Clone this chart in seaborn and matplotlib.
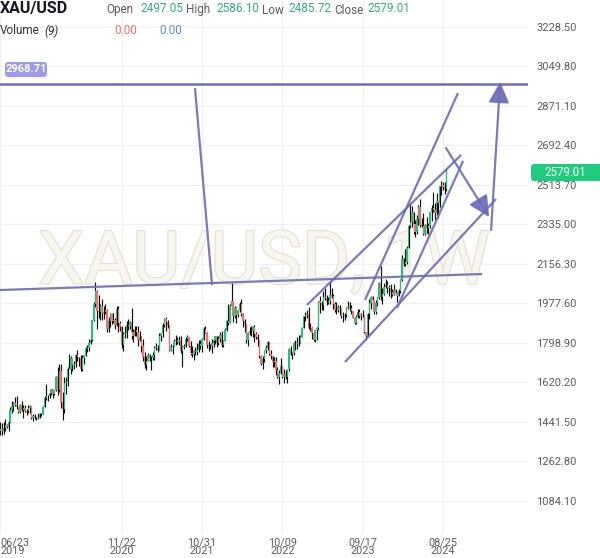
import numpy as np
import pandas as pd
import seaborn as sns
import matplotlib.pyplot as plt
import matplotlib.patheffects as pe
from matplotlib.patches import FancyBboxPatch

sns.set_style("white")
plt.rcParams['font.family'] = ['Roboto', 'DejaVu Sans']

# weekly XAU/USD candles, first week starts 2019-06-23
first_open = 1402.0

closes_2019 = [1409, 1400, 1415, 1426, 1419, 1440, 1497, 1513, 1527, 1520, 1507, 1488, 1517, 1497,
               1505, 1489, 1490, 1505, 1514, 1459, 1468, 1462, 1464, 1459, 1476, 1478, 1511, 1552]
highs_2019 = [1439, 1437, 1439, 1453, 1433, 1449, 1510, 1535, 1531, 1555, 1557, 1511, 1524, 1535,
              1519, 1516, 1500, 1518, 1516, 1515, 1478, 1478, 1466, 1484, 1484, 1483, 1514, 1557]
lows_2019 = [1382, 1382, 1386, 1401, 1412, 1400, 1441, 1480, 1492, 1513, 1502, 1484, 1484, 1490,
             1459, 1486, 1474, 1480, 1484, 1456, 1445, 1457, 1452, 1455, 1458, 1469, 1477, 1508]

closes_2020 = [1557, 1557, 1571, 1589, 1570, 1584, 1644, 1585, 1673, 1530, 1498, 1617, 1620, 1683,
               1683, 1729, 1700, 1702, 1743, 1734, 1730, 1683, 1729, 1743, 1771, 1775, 1798, 1810,
               1902, 1975, 2035, 1944, 1940, 1964, 1934, 1940, 1950, 1862, 1900, 1930, 1899, 1902,
               1879, 1951, 1889, 1872, 1788, 1839, 1839, 1881, 1877, 1895]
highs_2020 = [1611, 1563, 1573, 1591, 1591, 1584, 1649, 1689, 1703, 1703, 1575, 1647, 1645, 1690,
              1747, 1738, 1722, 1715, 1751, 1765, 1735, 1745, 1744, 1745, 1779, 1789, 1818, 1815,
              1904, 1984, 2075, 2039, 2015, 1976, 2000, 1966, 1973, 1951, 1917, 1933, 1933, 1933,
              1911, 1965, 1965, 1897, 1876, 1848, 1875, 1897, 1906, 1900]
lows_2020 = [1540, 1536, 1549, 1563, 1548, 1562, 1581, 1562, 1575, 1504, 1451, 1484, 1567, 1606,
             1680, 1660, 1670, 1681, 1692, 1717, 1693, 1670, 1670, 1704, 1741, 1757, 1764, 1792,
             1807, 1900, 1963, 1863, 1911, 1902, 1902, 1906, 1929, 1848, 1850, 1873, 1886, 1891,
             1860, 1877, 1850, 1853, 1775, 1764, 1820, 1821, 1859, 1864]

closes_2021 = [1850, 1829, 1856, 1848, 1814, 1824, 1784, 1734, 1700, 1719, 1745, 1733, 1729, 1744,
               1777, 1777, 1769, 1831, 1843, 1881, 1905, 1892, 1877, 1764, 1781, 1787, 1808, 1812,
               1802, 1814, 1763, 1780, 1781, 1819, 1827, 1787, 1754, 1750, 1761, 1757, 1768, 1793,
               1783, 1818, 1864, 1845, 1788, 1783, 1783, 1798, 1811, 1829]
highs_2021 = [1959, 1864, 1875, 1876, 1875, 1855, 1830, 1815, 1760, 1740, 1755, 1748, 1740, 1758,
              1784, 1798, 1790, 1843, 1846, 1890, 1913, 1916, 1903, 1879, 1795, 1791, 1818, 1834,
              1825, 1832, 1832, 1785, 1795, 1824, 1834, 1827, 1809, 1787, 1765, 1782, 1800, 1814,
              1810, 1823, 1869, 1877, 1849, 1808, 1793, 1815, 1813, 1831]
lows_2021 = [1817, 1803, 1829, 1832, 1785, 1808, 1760, 1717, 1687, 1677, 1718, 1719, 1677, 1721,
             1723, 1766, 1756, 1768, 1808, 1826, 1869, 1855, 1866, 1761, 1761, 1750, 1786, 1791,
             1794, 1790, 1753, 1690, 1772, 1779, 1807, 1782, 1745, 1737, 1721, 1746, 1745, 1760,
             1772, 1759, 1813, 1845, 1778, 1762, 1770, 1753, 1781, 1796]

closes_2022 = [1797, 1817, 1835, 1791, 1808, 1859, 1898, 1889, 1966, 1988, 1921, 1958, 1925, 1946,
               1975, 1931, 1897, 1883, 1811, 1846, 1853, 1851, 1871, 1840, 1827, 1811, 1742, 1703,
               1727, 1766, 1775, 1802, 1747, 1738, 1712, 1717, 1675, 1644, 1661, 1695, 1644, 1657,
               1645, 1682, 1770, 1751, 1755, 1798, 1797, 1793, 1798, 1824]
highs_2022 = [1831, 1830, 1848, 1853, 1811, 1865, 1902, 1974, 1974, 2070, 1989, 1966, 1960, 1949,
              1982, 1998, 1936, 1909, 1884, 1849, 1870, 1874, 1877, 1879, 1847, 1840, 1812, 1745,
              1739, 1767, 1788, 1807, 1802, 1765, 1740, 1735, 1735, 1688, 1675, 1730, 1690, 1681,
              1675, 1682, 1774, 1786, 1760, 1804, 1810, 1824, 1833, 1833]
lows_2022 = [1782, 1789, 1805, 1780, 1780, 1807, 1851, 1878, 1889, 1950, 1895, 1910, 1890, 1915,
             1941, 1922, 1872, 1850, 1798, 1787, 1837, 1829, 1825, 1805, 1816, 1785, 1732, 1697,
             1681, 1711, 1754, 1766, 1745, 1727, 1688, 1691, 1654, 1639, 1615, 1660, 1640, 1618,
             1638, 1617, 1672, 1745, 1727, 1743, 1765, 1773, 1785, 1798]

closes_2023 = [1866, 1920, 1926, 1928, 1865, 1865, 1842, 1811, 1856, 1868, 1989, 1978, 1969, 2007,
               2004, 1983, 1990, 2017, 2011, 1977, 1946, 1948, 1961, 1958, 1921, 1919, 1925, 1955,
               1962, 1959, 1943, 1914, 1889, 1915, 1940, 1919, 1924, 1925, 1848, 1832, 1932, 1981,
               2006, 1992, 1940, 1981, 2002, 2072, 2005, 2019, 2053, 2063]
highs_2023 = [1869, 1922, 1937, 1949, 1960, 1890, 1870, 1848, 1858, 1870, 1990, 2010, 1987, 2032,
              2048, 2015, 2009, 2079, 2048, 2022, 1985, 1983, 1971, 1971, 1959, 1938, 1935, 1963,
              1987, 1983, 1970, 1935, 1917, 1924, 1953, 1953, 1933, 1947, 1926, 1844, 1936, 1997,
              2010, 2010, 1993, 1993, 2008, 2075, 2147, 2047, 2070, 2088]
lows_2023 = [1825, 1866, 1896, 1911, 1861, 1855, 1819, 1808, 1805, 1810, 1858, 1934, 1949, 1949,
             1992, 1969, 1974, 1977, 2002, 1951, 1937, 1932, 1938, 1925, 1910, 1893, 1902, 1915,
             1951, 1943, 1929, 1912, 1885, 1884, 1913, 1914, 1901, 1915, 1846, 1810, 1834, 1908,
             1954, 1970, 1932, 1931, 1966, 1999, 1994, 1973, 2016, 2048]

closes_2024 = [2049, 2049, 2029, 2018, 2039, 2024, 2013, 2035, 2083, 2179, 2155, 2166, 2230, 2330,
               2344, 2391, 2337, 2301, 2360, 2415, 2334, 2327, 2294, 2333, 2321, 2326, 2392, 2411,
               2400, 2386, 2443, 2431, 2507, 2512, 2503, 2497.05, 2579.01]
highs_2024 = [2079, 2062, 2067, 2041, 2066, 2045, 2031, 2041, 2088, 2195, 2185, 2223, 2236, 2331,
              2432, 2418, 2349, 2354, 2378, 2422, 2450, 2364, 2388, 2339, 2368, 2340, 2393, 2424,
              2483, 2432, 2477, 2431, 2509, 2531, 2529, 2529, 2586.10]
lows_2024 = [2024, 2013, 2002, 2010, 2017, 2015, 1984, 2010, 2023, 2078, 2146, 2146, 2157, 2228,
             2319, 2324, 2291, 2277, 2291, 2334, 2325, 2325, 2286, 2287, 2295, 2293, 2318, 2351,
             2393, 2353, 2378, 2364, 2415, 2470, 2492, 2472, 2485.72]

price_ticks = [1084.10, 1262.80, 1441.50, 1620.20, 1798.90, 1977.60, 2156.30,
               2335.00, 2513.70, 2692.40, 2871.10, 3049.80, 3228.50]
date_tick_weeks = [0, 74, 123, 172, 221, 270]
date_tick_labels = ["06/23\n2019", "11/22\n2020", "10/31\n2021", "10/09\n2022", "09/17\n2023", "08/25\n2024"]

# drawings (week index, price)
h_level = 2968.71
trend_lines = [
    [(-0.2, 2038.4), (293.8, 2110.8)],
    [(118.7, 2952.5), (129.1, 2061.1)],
    [(187.0, 1970.5), (281.0, 2649.3)],
    [(210.2, 1712.6), (302.3, 2450.2)],
    [(222.4, 1993.2), (279.1, 2929.8)],
    [(241.9, 1957.0), (282.2, 2622.2)],
]
arrows = [
    [(271.8, 2681.0), (298.1, 2368.8)],
    [(299.3, 2309.9), (304.8, 2979.6)],
]

closes = closes_2019 + closes_2020 + closes_2021 + closes_2022 + closes_2023 + closes_2024
highs = highs_2019 + highs_2020 + highs_2021 + highs_2022 + highs_2023 + highs_2024
lows = lows_2019 + lows_2020 + lows_2021 + lows_2022 + lows_2023 + lows_2024

df = pd.DataFrame({"close": closes, "high": highs, "low": lows})
df["week"] = np.arange(len(df))
df["open"] = [first_open] + closes[:-1]
df["high"] = df[["high", "open", "close"]].max(axis=1)
df["low"] = df[["low", "open", "close"]].min(axis=1)
df["up"] = df["close"] >= df["open"]

UP = "#1fc37a"
DOWN = "#f26d6d"
PURPLE = "#6c6cbc"
GRID = "#f0f0f0"
LABEL = "#5d5d5d"

fig = plt.figure(figsize=(6, 5.58), dpi=100)
W, H = 600, 558
ax = fig.add_axes([0, 1 - 533 / H, 528 / W, 533 / H])

ax.set_xlim(-0.21, 321.8)
ax.set_ylim(938.9, 3350.7)

# watermark
ax.text(264 / W, 1 - 263 / H, "XAU/USD, 1W", transform=fig.transFigure,
        ha="center", va="center", fontsize=53, color="#f8f6f0", zorder=1,
        path_effects=[pe.withStroke(linewidth=1.6, foreground="#e6dfcd")])

# candles
ax.vlines(df["week"], df["low"], df["high"], color="#111111", lw=0.85, zorder=3)
body_bottom = df[["open", "close"]].min(axis=1)
body_h = (df["close"] - df["open"]).abs().clip(lower=3)
ax.bar(df["week"], body_h, bottom=body_bottom, width=0.85,
       color=np.where(df["up"], UP, DOWN), linewidth=0, zorder=4)

# drawings
ax.axhline(h_level, color=PURPLE, lw=1.8, zorder=5)
for (x0, y0), (x1, y1) in trend_lines:
    ax.plot([x0, x1], [y0, y1], color=PURPLE, lw=1.6, alpha=0.9, zorder=5,
            solid_capstyle="butt")
for (x0, y0), (x1, y1) in arrows:
    ax.annotate("", xy=(x1, y1), xytext=(x0, y0), zorder=6,
                arrowprops=dict(arrowstyle="-|>,head_length=0.9,head_width=0.45",
                                color=PURPLE, lw=1.6, alpha=0.9, mutation_scale=14,
                                shrinkA=0, shrinkB=0))

# axes, grid
ax.set_yticks(price_ticks)
ax.set_yticklabels([f"{v:.2f}" for v in price_ticks])
ax.yaxis.tick_right()
ax.set_xticks(date_tick_weeks)
ax.set_xticklabels(date_tick_labels)
ax.grid(True, color=GRID, lw=1)
ax.tick_params(axis="y", length=0, pad=6, labelsize=8, labelcolor=LABEL)
ax.tick_params(axis="x", length=0, pad=3, labelsize=7.8, labelcolor=LABEL)
for lbl in ax.get_xticklabels():
    lbl.set_linespacing(0.9)
ax.get_xticklabels()[0].set_ha("left")
for s in ax.spines.values():
    s.set_visible(False)

# header
def ftext(x, y, s, **kw):
    fig.text(x / W, 1 - y / H, s, va="center", ha="left", **kw)

ftext(0, 9, "XAU/USD", fontsize=11.5, fontweight="bold", color="#131722")
VAL = "#2bb07a"
ftext(106, 10, "Open", fontsize=8.5, color=LABEL)
ftext(140, 9, "2497.05", fontsize=8.5, color=VAL)
ftext(186, 10, "High", fontsize=8.5, color=LABEL)
ftext(216, 9, "2586.10", fontsize=8.5, color=VAL)
ftext(262, 10, "Low", fontsize=8.5, color=LABEL)
ftext(288, 9, "2485.72", fontsize=8.5, color=VAL)
ftext(334, 10, "Close", fontsize=8.5, color=LABEL)
ftext(367, 9, "2579.01", fontsize=8.5, color=VAL)
ftext(0, 31, "Volume", fontsize=8.5, color="#333333")
ftext(44, 31, "(9)", fontsize=8.5, color="#333333", style="italic")
ftext(114, 30, "0.00", fontsize=8.5, color="#e57373")
ftext(159, 30, "0.00", fontsize=8.5, color="#5b8ee6")

# price tags
tag_left = FancyBboxPatch((5 / W, 1 - 77 / H), 42 / W, 15 / H, transform=fig.transFigure,
                          boxstyle="round,pad=0,rounding_size=0.006", fc="#9e9af0", ec="none")
fig.patches.append(tag_left)
fig.text(26 / W, 1 - 69.5 / H, "2968.71", ha="center", va="center", fontsize=8,
         fontweight="bold", color="white")

tag_right = FancyBboxPatch((531 / W, 1 - 181 / H), 75 / W, 17 / H, transform=fig.transFigure,
                           boxstyle="round,pad=0,rounding_size=0.006", fc="#1fcb7c", ec="none",
                           zorder=10)
fig.patches.append(tag_right)
fig.text(565 / W, 1 - 172.5 / H, "2579.01", ha="center", va="center", fontsize=8.3,
         color="white", zorder=11)

fig.savefig("out.png", dpi=100)
